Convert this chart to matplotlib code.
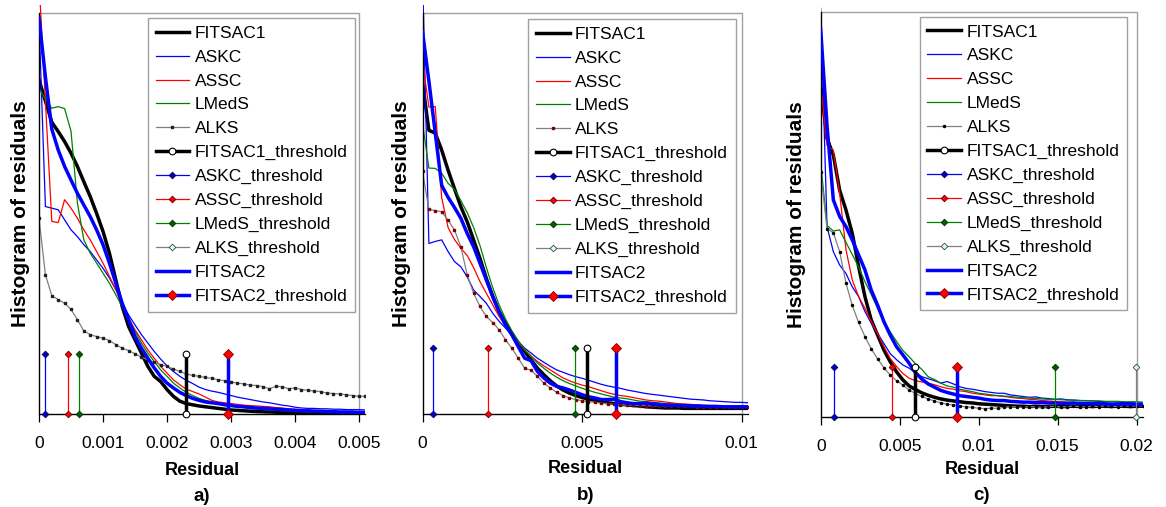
import numpy as np
import matplotlib
matplotlib.use('Agg')
import matplotlib.pyplot as plt
from matplotlib.patches import Rectangle

plt.rcParams['font.family'] = ['Liberation Sans', 'DejaVu Sans']

# ---------------- data ----------------
# bin widths of residual histograms
A_STEP = 0.0001
B_STEP = 0.0002
C_STEP = 0.0004

A_FITSAC1 = [83.3, 78.0, 72.7, 70.4, 67.9, 65.0, 61.7, 57.9, 54.2, 50.0, 45.5, 40.1, 33.4, 26.8, 21.8, 18.5,
             15.2, 11.9, 9.4, 8.1, 6.1, 4.4, 3.2, 2.6, 2.3, 2.0, 1.8, 1.6, 1.4, 1.2, 1.0, 0.9, 0.8, 0.7, 0.6,
             0.55, 0.5, 0.45, 0.4, 0.4, 0.35, 0.3, 0.3, 0.3, 0.25, 0.2, 0.2, 0.2, 0.2, 0.2, 0.2, 0.2]
A_ASKC = [98.2, 51.7, 51.3, 50.9, 48.4, 45.9, 44.2, 42.2, 40.5, 38.4, 36.3, 33.9, 31.0, 27.6, 24.7, 22.2, 19.8,
          17.7, 15.6, 13.7, 12.0, 10.6, 9.4, 8.4, 7.6, 6.7, 6.1, 5.7, 5.4, 5.0, 4.6, 4.2, 3.9, 3.6, 3.3, 3.0,
          2.8, 2.5, 2.2, 2.0, 1.7, 1.5, 1.4, 1.4, 1.3, 1.3, 1.2, 1.2, 1.1, 1.1, 1.1, 1.0]
A_ASSC = [108.0, 78.0, 48.0, 47.7, 53.4, 51.3, 48.8, 45.9, 43.4, 40.5, 37.6, 34.3, 31.0, 27.2, 23.9, 21.0, 18.5,
          16.0, 13.9, 11.9, 10.2, 8.5, 7.3, 6.2, 5.6, 5.0, 4.2, 3.4, 3.0, 2.8, 2.6, 2.4, 2.2, 2.1, 2.0, 1.9,
          1.8, 1.6, 1.5, 1.3, 1.2, 1.1, 1.0, 0.9, 0.8, 0.8, 0.7, 0.7, 0.6, 0.6, 0.6, 0.6]
A_LMEDS = [81.2, 78.5, 76.2, 76.6, 76.1, 70.5, 52.6, 43.4, 40.1, 37.6, 35.1, 32.6, 29.7, 26.8, 23.5, 20.6, 17.7,
           15.2, 13.1, 11.0, 9.4, 7.7, 6.5, 5.4, 4.6, 3.9, 3.4, 3.0, 2.6, 2.3, 2.0, 1.8, 1.6, 1.4, 1.2, 1.1,
           1.0, 0.9, 0.8, 0.7, 0.6, 0.6, 0.5, 0.5, 0.4, 0.4, 0.4, 0.3, 0.3, 0.3, 0.3, 0.3]
A_ALKS = [48.8, 34.7, 29.5, 28.5, 27.6, 26.1, 23.5, 20.7, 19.8, 19.3, 18.9, 18.3, 17.3, 16.4, 15.8, 15.0, 14.2,
          13.5, 12.9, 12.3, 11.9, 11.2, 10.6, 10.0, 9.6, 9.4, 9.1, 8.9, 8.5, 8.3, 8.0, 7.7, 7.5, 7.2, 7.1, 6.8,
          6.3, 6.9, 6.8, 6.3, 6.5, 6.1, 5.9, 5.7, 5.6, 5.2, 5.1, 5.0, 4.8, 4.6, 4.4, 4.4]
A_FITSAC2 = [98.7, 84.0, 71.0, 65.8, 61.7, 58.3, 55.0, 52.1, 49.2, 45.9, 42.2, 37.6, 32.6, 27.6, 23.5, 19.3, 16.4,
             13.9, 11.5, 9.4, 7.7, 6.5, 5.4, 4.6, 3.9, 3.4, 3.0, 2.8, 2.6, 2.3, 2.1, 1.9, 1.8, 1.6, 1.5, 1.4,
             1.3, 1.2, 1.1, 1.0, 0.9, 0.8, 0.8, 0.7, 0.7, 0.6, 0.6, 0.5, 0.5, 0.5, 0.4, 0.4]

B_FITSAC1 = [82.5, 70.7, 70.0, 65.8, 60.8, 56.2, 51.7, 47.9, 43.4, 38.8, 33.8, 29.3, 25.5, 22.6, 20.1, 17.7, 15.6,
             13.5, 11.4, 9.8, 8.3, 7.0, 6.0, 5.2, 4.6, 4.1, 3.7, 3.4, 3.1, 2.8, 2.6, 2.4, 2.3, 2.1, 2.0, 1.8,
             1.7, 1.6, 1.5, 1.5, 1.5, 1.4, 1.4, 1.4, 1.4, 1.4, 1.4, 1.4, 1.4, 1.4, 1.4, 1.4]
B_ASKC = [110.0, 42.5, 43.0, 43.4, 40.5, 38.0, 36.7, 34.2, 30.9, 29.3, 27.6, 25.1, 23.1, 21.4, 19.7, 18.1, 16.4,
          15.2, 13.9, 12.9, 11.9, 11.0, 10.4, 9.8, 9.3, 8.9, 8.4, 7.9, 7.4, 7.0, 6.7, 6.4, 6.0, 5.7, 5.4, 5.1,
          4.9, 4.7, 4.5, 4.3, 4.1, 3.9, 3.7, 3.6, 3.5, 3.3, 3.2, 3.1, 3.0, 2.9, 2.9, 2.8]
B_ASSC = [87.9, 76.5, 76.6, 54.0, 46.5, 43.5, 41.3, 39.5, 36.5, 33.0, 30.1, 27.2, 24.3, 22.0, 19.7, 17.8, 16.0,
          14.5, 13.1, 12.0, 11.0, 10.0, 9.0, 8.3, 7.7, 7.2, 6.8, 6.3, 5.8, 5.3, 4.9, 4.6, 4.4, 4.1, 3.8, 3.5,
          3.3, 3.2, 3.0, 2.8, 2.6, 2.5, 2.4, 2.3, 2.2, 2.1, 2.0, 2.0, 1.9, 1.9, 1.8, 1.8]
B_LMEDS = [72.5, 61.3, 61.2, 60.0, 57.5, 56.0, 53.2, 50.2, 46.5, 42.0, 36.5, 31.5, 27.2, 23.7, 20.7, 18.1, 16.0,
           14.3, 12.7, 11.4, 10.2, 9.2, 8.3, 7.6, 7.0, 6.4, 5.9, 5.4, 5.0, 4.6, 4.2, 4.0, 3.8, 3.5, 3.2, 3.1,
           2.9, 2.8, 2.6, 2.5, 2.4, 2.3, 2.3, 2.2, 2.1, 2.1, 2.0, 2.0, 1.9, 1.9, 1.8, 1.8]
B_ALKS = [60.5, 51.0, 50.7, 50.4, 48.3, 45.9, 41.7, 34.7, 30.1, 26.8, 24.3, 22.8, 21.0, 18.5, 16.4, 13.9, 11.4,
          10.9, 9.4, 7.7, 6.5, 5.4, 4.6, 4.0, 3.6, 3.3, 3.1, 2.9, 2.7, 2.6, 2.4, 2.3, 2.2, 2.2, 2.1, 2.1, 2.0,
          2.0, 2.0, 1.9, 1.9, 1.9, 1.9, 1.8, 1.8, 1.8, 1.8, 1.8, 1.8, 1.8, 1.8, 1.8]
B_FITSAC2 = [95.3, 83.0, 70.0, 57.0, 54.0, 51.5, 48.8, 45.0, 41.7, 37.6, 33.4, 29.3, 25.5, 22.2, 19.7, 16.8, 13.9,
             13.3, 10.6, 9.0, 7.7, 6.9, 6.5, 6.0, 5.4, 4.8, 4.3, 4.0, 3.6, 3.6, 3.7, 3.1, 2.8, 2.6, 2.6, 2.7,
             2.5, 2.3, 2.2, 2.2, 2.1, 2.1, 2.0, 2.0, 1.9, 1.9, 1.9, 1.8, 1.8, 1.8, 1.8, 1.8]

C_FITSAC1 = [82.0, 68.8, 64.7, 56.0, 51.1, 45.3, 37.1, 29.7, 23.9, 20.2, 16.5, 13.6, 11.1, 9.1, 7.6, 6.7, 5.9,
             5.3, 4.8, 4.4, 4.1, 3.9, 3.7, 3.5, 3.4, 3.2, 3.1, 3.0, 2.9, 2.8, 2.7, 2.6, 2.6, 2.5, 2.6, 2.5, 2.5,
             2.6, 2.5, 2.5, 2.6, 2.5, 2.6, 2.5, 2.6, 2.6, 2.5, 2.6, 2.6, 2.5, 2.6, 2.6]
C_ASKC = [101.0, 47.0, 40.8, 37.5, 35.4, 32.1, 29.7, 26.0, 23.1, 20.6, 18.1, 15.6, 14.1, 12.8, 12.0, 10.8, 9.9,
          9.4, 8.9, 8.3, 8.7, 8.1, 7.4, 7.0, 6.8, 6.5, 6.2, 6.0, 5.8, 5.8, 5.4, 5.2, 5.0, 4.8, 4.9, 4.6, 4.5,
          4.3, 4.4, 4.2, 4.1, 4.0, 3.9, 3.9, 3.8, 3.7, 3.7, 3.6, 3.5, 3.5, 3.4, 3.4]
C_ASSC = [82.0, 67.1, 65.9, 55.2, 41.3, 33.8, 29.7, 26.8, 23.5, 20.6, 17.3, 14.4, 12.4, 10.7, 9.5, 8.9, 8.6, 8.3,
          7.9, 7.4, 7.0, 6.8, 6.4, 6.2, 5.8, 5.6, 5.4, 5.2, 5.2, 5.0, 4.8, 4.6, 4.5, 4.3, 4.2, 4.0, 3.9, 3.8,
          3.7, 3.6, 3.5, 3.4, 3.4, 3.3, 3.3, 3.2, 3.2, 3.1, 3.1, 3.0, 3.0, 3.0]
C_LMEDS = [62.7, 47.3, 45.9, 46.2, 43.1, 40.1, 37.0, 33.4, 30.2, 26.8, 23.5, 21.0, 18.6, 16.4, 14.8, 13.1, 11.7,
           9.9, 9.2, 8.3, 7.6, 7.3, 6.8, 6.5, 6.2, 5.8, 5.6, 5.4, 5.2, 5.1, 5.0, 4.8, 4.7, 4.6, 4.5, 4.4, 4.3,
           4.3, 4.2, 4.1, 4.1, 4.0, 4.0, 3.9, 3.9, 3.8, 3.8, 3.8, 3.7, 3.7, 3.7, 3.6]
C_ALKS = [60.6, 46.5, 45.5, 40.8, 33.0, 27.5, 23.3, 19.8, 16.8, 14.3, 12.1, 10.3, 8.9, 7.8, 6.6, 5.7, 5.0, 4.4,
          3.9, 3.4, 3.1, 2.9, 2.6, 2.5, 2.3, 2.1, 2.0, 2.1, 2.1, 2.3, 2.5, 2.4, 2.3, 2.5, 2.4, 2.3, 2.5, 2.6,
          2.4, 2.5, 2.6, 2.5, 2.4, 2.6, 2.5, 2.7, 2.6, 2.5, 2.7, 2.6, 2.7, 2.7]
C_FITSAC2 = [95.8, 72.0, 53.6, 49.5, 47.0, 43.7, 40.0, 36.3, 31.3, 27.6, 23.5, 20.2, 17.3, 15.3, 13.2, 10.9, 9.3,
             8.1, 7.3, 6.5, 6.0, 5.6, 5.2, 5.0, 4.8, 4.6, 4.3, 4.1, 4.0, 4.0, 3.8, 3.7, 3.6, 3.6, 3.5, 3.5, 3.4,
             3.4, 3.3, 3.3, 3.4, 3.3, 3.2, 3.2, 3.3, 3.2, 3.1, 3.1, 3.2, 3.1, 3.0, 3.0]

# thresholds (residual values); None = outside the plotted range
A_THRESH = {'FITSAC1': 0.00229, 'ASKC': 0.000089, 'ASSC': 0.000458, 'LMedS': 0.00063, 'ALKS': None, 'FITSAC2': 0.00295}
B_THRESH = {'FITSAC1': 0.00516, 'ASKC': 0.000344, 'ASSC': 0.00205, 'LMedS': 0.00478, 'ALKS': None, 'FITSAC2': 0.00606}
C_THRESH = {'FITSAC1': 0.00597, 'ASKC': 0.00084, 'ASSC': 0.00453, 'LMedS': 0.01483, 'ALKS': 0.01994, 'FITSAC2': 0.0086}
THRESH_HEIGHT = [15.0, 16.5, 12.4]

A_TICKS = [0, 0.001, 0.002, 0.003, 0.004, 0.005]
A_TICKLABELS = ['0', '0.001', '0.002', '0.003', '0.004', '0.005']
B_TICKS = [0, 0.005, 0.01]
B_TICKLABELS = ['0', '0.005', '0.01']
C_TICKS = [0, 0.005, 0.01, 0.015, 0.02]
C_TICKLABELS = ['0', '0.005', '0.01', '0.015', '0.02']
PANEL_LETTERS = ['a)', 'b)', 'c)']

# ---------------- styles ----------------
BLUE = '#0000ff'
LINE_STYLE = {
    'FITSAC1': dict(color='black', lw=2.5),
    'ASKC': dict(color=BLUE, lw=0.9),
    'ASSC': dict(color='#ff0000', lw=0.9),
    'LMedS': dict(color='#008000', lw=0.9),
    'ALKS': dict(color='#808080', lw=0.9),
    'FITSAC2': dict(color=BLUE, lw=2.5),
}
ALKS_MARKERS = [dict(marker='s', ms=1.7, mfc='#202020', mec='#202020'),
                dict(marker='s', ms=1.8, mfc='#800000', mec='#800000'),
                dict(marker='o', ms=1.5, mfc='black', mec='black')]
THR_STYLE = {
    'FITSAC1': dict(color='black', lw=2.5, marker='o', ms=4.8, mfc='white', mec='black', mew=0.8),
    'ASKC': dict(color=BLUE, lw=0.9, marker='D', ms=3.4, mfc='#0000c0', mec='#000060', mew=0.6),
    'ASSC': dict(color='#ff0000', lw=0.9, marker='D', ms=3.4, mfc='#ff0000', mec='#600000', mew=0.6),
    'LMedS': dict(color='#008000', lw=0.9, marker='D', ms=3.4, mfc='#006000', mec='#003000', mew=0.6),
    'ALKS': dict(color='#808080', lw=0.9, marker='D', ms=3.4, mfc='#ccffff', mec='#404040', mew=0.6),
    'FITSAC2': dict(color=BLUE, lw=2.5, marker='D', ms=5.0, mfc='#ff0000', mec='#800000', mew=0.6),
}

panels = [
    dict(step=A_STEP, series={'FITSAC1': A_FITSAC1, 'ASKC': A_ASKC, 'ASSC': A_ASSC, 'LMedS': A_LMEDS,
                              'ALKS': A_ALKS, 'FITSAC2': A_FITSAC2},
         thr=A_THRESH, ticks=A_TICKS, labels=A_TICKLABELS,
         rect=[39 / 1166, 93 / 507, 326.4 / 1166, 409.3 / 507], xmax=0.0051,
         ylab_x=-0.058, xlab_y=-0.137, let_y=-0.202, leg=(0.969, 0.9675)),
    dict(step=B_STEP, series={'FITSAC1': B_FITSAC1, 'ASKC': B_ASKC, 'ASSC': B_ASSC, 'LMedS': B_LMEDS,
                              'ALKS': B_ALKS, 'FITSAC2': B_FITSAC2},
         thr=B_THRESH, ticks=B_TICKS, labels=B_TICKLABELS,
         rect=[422.5 / 1166, 93 / 507, 325.6 / 1166, 409.3 / 507], xmax=0.0102,
         ylab_x=-0.063, xlab_y=-0.133, let_y=-0.198, leg=(0.962, 0.965)),
    dict(step=C_STEP, series={'FITSAC1': C_FITSAC1, 'ASKC': C_ASKC, 'ASSC': C_ASSC, 'LMedS': C_LMEDS,
                              'ALKS': C_ALKS, 'FITSAC2': C_FITSAC2},
         thr=C_THRESH, ticks=C_TICKS, labels=C_TICKLABELS,
         rect=[820.7 / 1166, 90.3 / 507, 322.3 / 1166, 412.5 / 507], xmax=0.0204,
         ylab_x=-0.0745, xlab_y=-0.127, let_y=-0.19, leg=(0.951, 0.970)),
]

YTOP = 100
YLIM = 102

fig = plt.figure(figsize=(11.66, 5.07), dpi=100)

for i, p in enumerate(panels):
    ax = fig.add_axes(p['rect'])
    handles = {}
    for name in ['FITSAC1', 'ASKC', 'ASSC', 'LMedS', 'ALKS']:
        y = np.array(p['series'][name])
        x = p['step'] * np.arange(len(y))
        kw = dict(LINE_STYLE[name])
        if name == 'ALKS':
            kw.update(ALKS_MARKERS[i])
        handles[name], = ax.plot(x, y, label=name, **kw)
    for name in ['FITSAC1', 'ASKC', 'ASSC', 'LMedS', 'ALKS']:
        tx = p['thr'][name]
        if tx is None:
            h, = ax.plot([], [], label=name + '_threshold', **THR_STYLE[name])
        else:
            h, = ax.plot([tx, tx], [0, THRESH_HEIGHT[i]], label=name + '_threshold',
                         clip_on=False, zorder=4, **THR_STYLE[name])
        handles[name + '_threshold'] = h
    y = np.array(p['series']['FITSAC2'])
    x = p['step'] * np.arange(len(y))
    handles['FITSAC2'], = ax.plot(x, y, label='FITSAC2', zorder=3, **LINE_STYLE['FITSAC2'])
    tx = p['thr']['FITSAC2']
    handles['FITSAC2_threshold'], = ax.plot([tx, tx], [0, THRESH_HEIGHT[i]], label='FITSAC2_threshold',
                                            clip_on=False, zorder=5, **THR_STYLE['FITSAC2'])

    ax.set_xlim(0, p['xmax'])
    ax.set_ylim(0, YLIM)
    ax.add_patch(Rectangle((0, 0), p['ticks'][-1], YTOP, fill=False, ec='#a0a0a0', lw=1.0,
                           zorder=0.5, clip_on=False))
    ax.spines['top'].set_visible(False)
    ax.spines['right'].set_visible(False)
    ax.spines['left'].set_bounds(0, YTOP)
    ax.spines['left'].set_linewidth(0.9)
    ax.spines['bottom'].set_linewidth(0.9)
    ax.set_yticks([])
    ax.set_xticks(p['ticks'])
    ax.set_xticklabels(p['labels'])
    ax.tick_params(axis='x', direction='out', length=6, width=0.9, labelsize=12.5, pad=10)

    ax.set_ylabel('Histogram of residuals', fontsize=15, fontweight='bold', va='center')
    ax.yaxis.set_label_coords(p['ylab_x'], 0.489)
    ax.set_xlabel('Residual', fontsize=13, fontweight='bold', va='center')
    ax.xaxis.set_label_coords(0.5, p['xlab_y'])
    ax.text(0.5, p['let_y'], PANEL_LETTERS[i], transform=ax.transAxes, ha='center', va='center',
            fontsize=13.5, fontweight='bold')

    order = ['FITSAC1', 'ASKC', 'ASSC', 'LMedS', 'ALKS', 'FITSAC1_threshold', 'ASKC_threshold',
             'ASSC_threshold', 'LMedS_threshold', 'ALKS_threshold', 'FITSAC2', 'FITSAC2_threshold']
    leg = ax.legend([handles[k] for k in order], order, loc='upper right', bbox_to_anchor=p['leg'],
                    fontsize=12.5, frameon=True, fancybox=False, framealpha=1, edgecolor='#a0a0a0',
                    borderpad=0.45, labelspacing=0.5, handlelength=1.95, handletextpad=0.3,
                    borderaxespad=0)
    leg.get_frame().set_linewidth(1.0)
    leg.set_zorder(10)

fig.savefig('out.png', dpi=100)
